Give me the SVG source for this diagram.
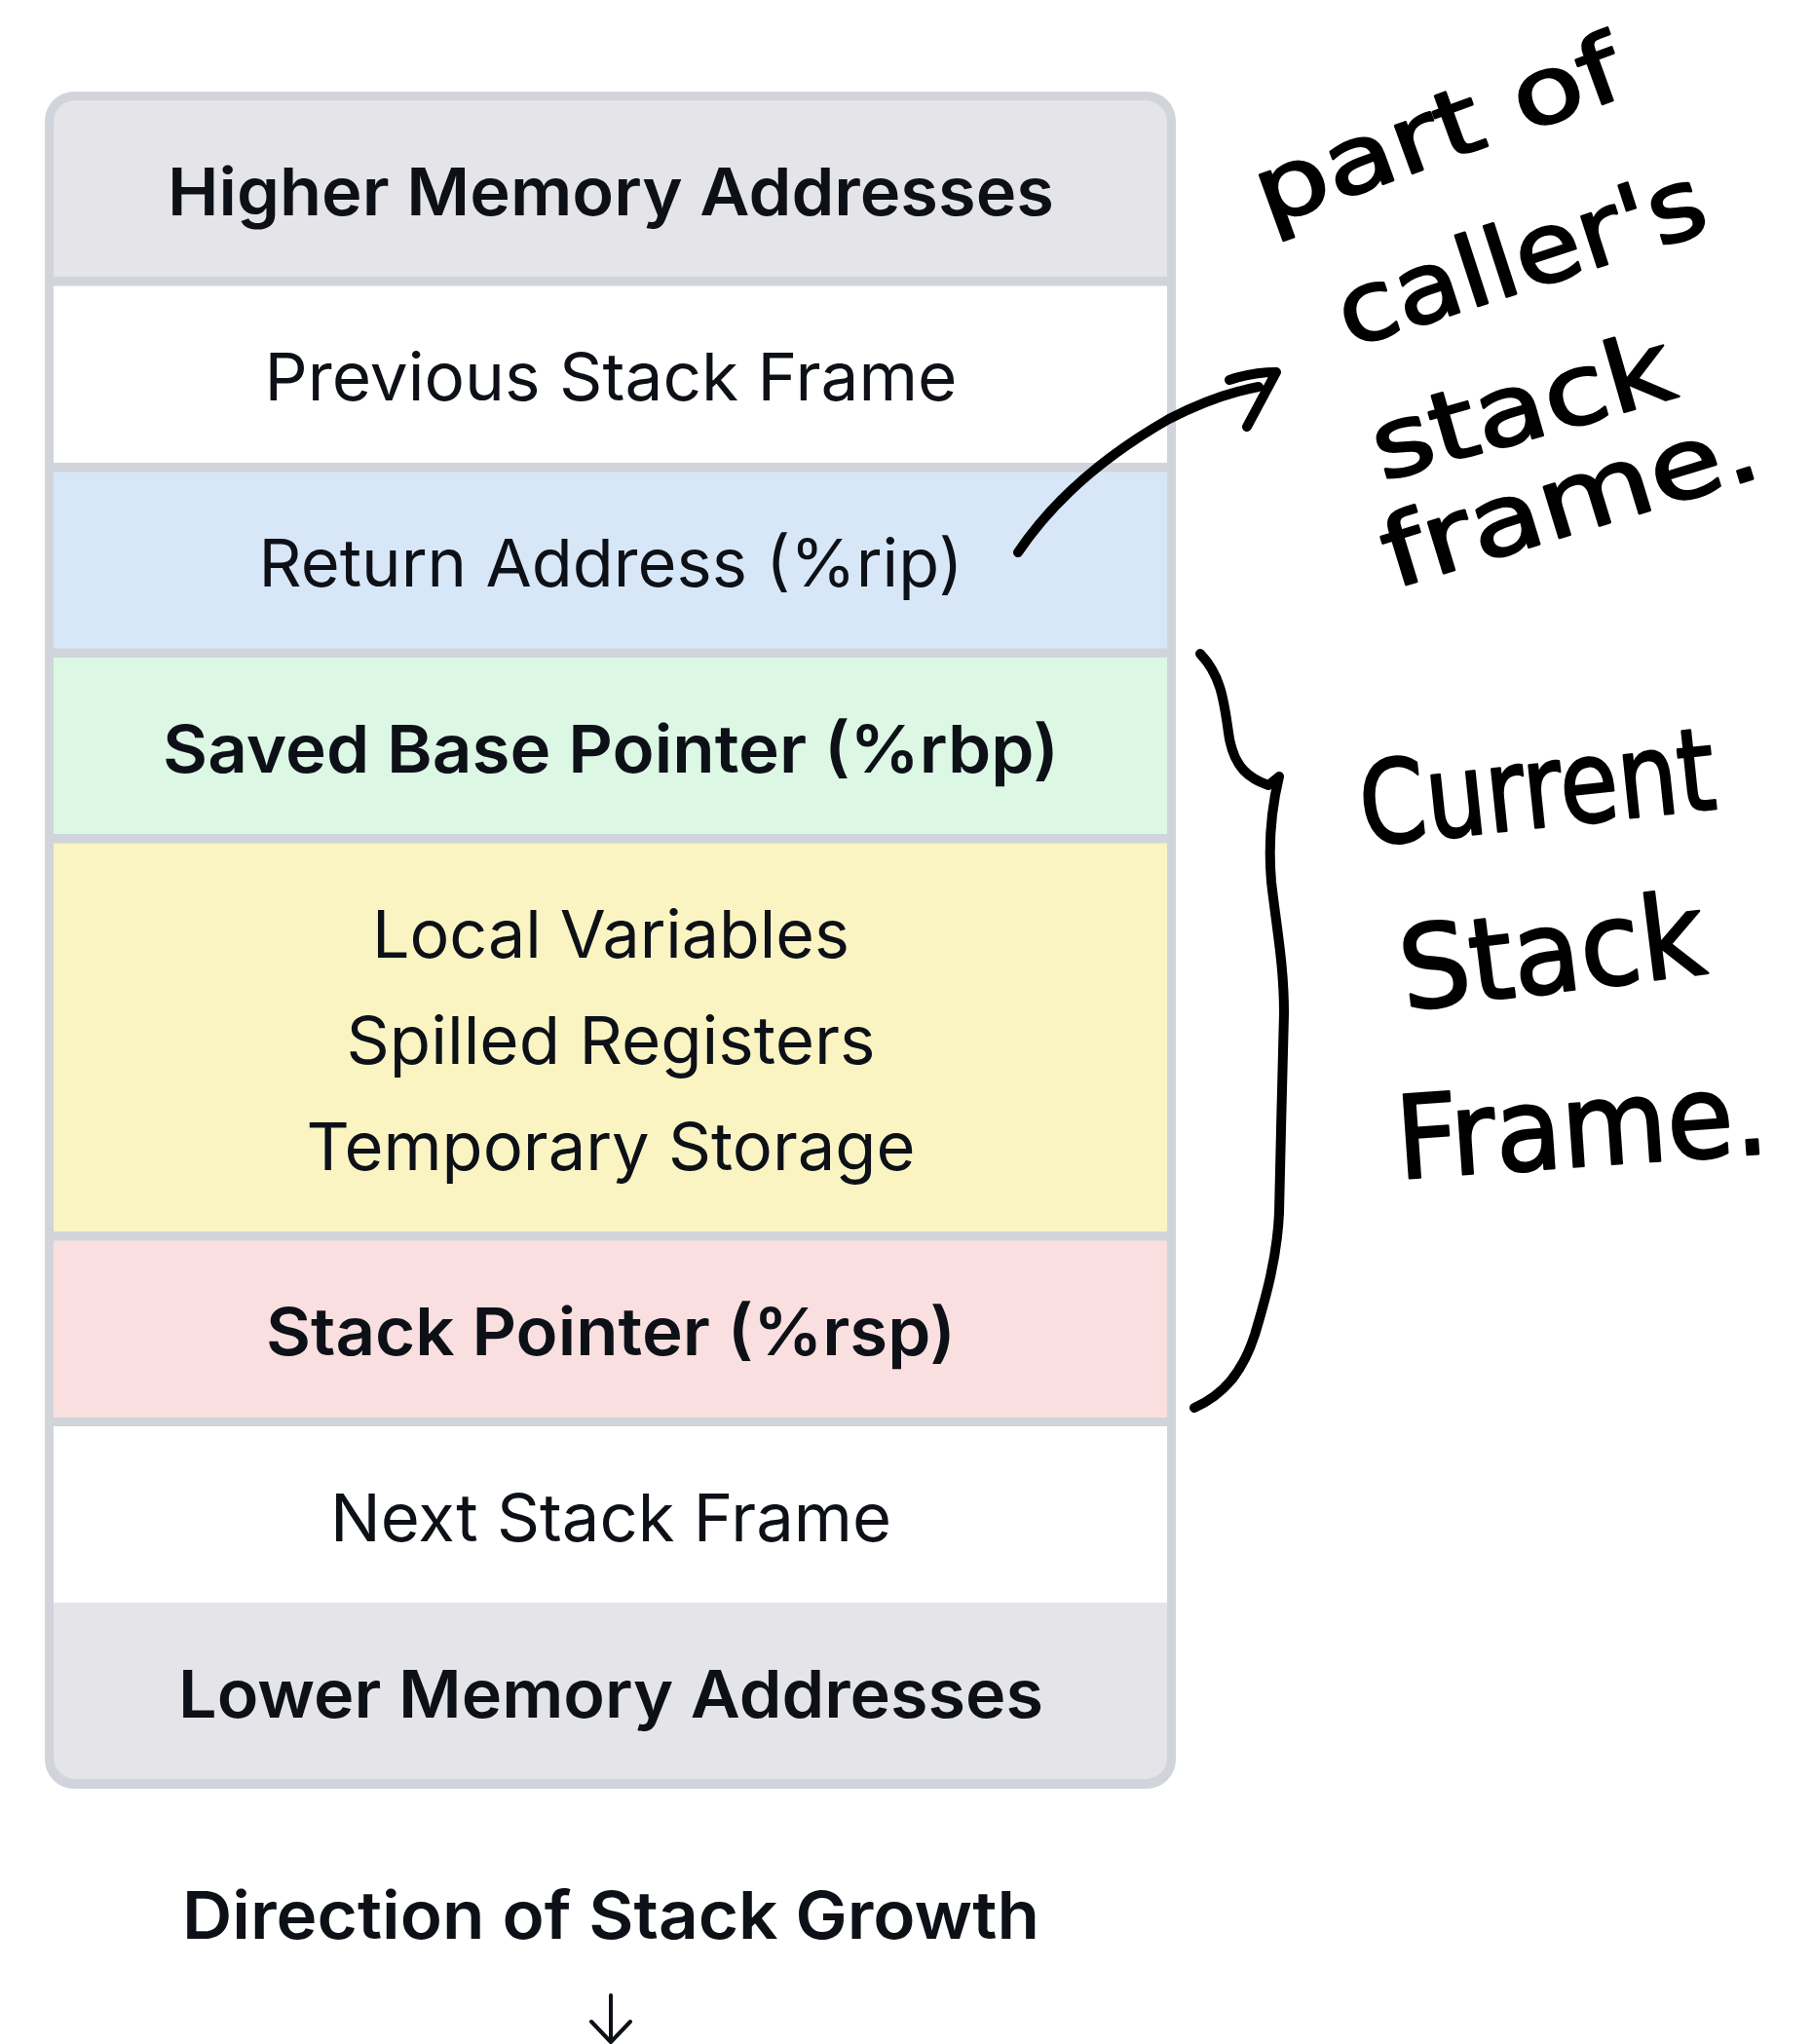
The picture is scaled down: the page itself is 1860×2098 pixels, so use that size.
<svg xmlns="http://www.w3.org/2000/svg" width="1860" height="2098" viewBox="0 0 1860 2098">
<style>
.lbl{font-family:Inter,"Liberation Sans",sans-serif;font-size:68px;fill:#0d1117;text-anchor:middle}
.b{font-weight:600}
.hand{font-family:"DejaVu Sans","Liberation Sans",sans-serif;fill:#000;stroke:#000;stroke-width:2.5;stroke-linejoin:round}
.ink{fill:none;stroke:#000;stroke-width:10;stroke-linecap:round;stroke-linejoin:round}
.thin{fill:none;stroke:#0d1117;stroke-width:4;stroke-linecap:round;stroke-linejoin:round}
</style>
<rect width="1860" height="2098" fill="#ffffff"/>
<g id="stack">
<rect id="frame" x="46" y="94" width="1161" height="1742" rx="30" fill="#d1d5db"/>
<g id="higher">
<path d="M55,125 A22,22 0 0 1 77,103 L1176,103 A22,22 0 0 1 1198,125 L1198,284 L55,284 Z" fill="#e4e4e9"/>
<text class="lbl b" x="627" y="220.5" textLength="910" lengthAdjust="spacingAndGlyphs">Higher Memory Addresses</text>
</g>
<g id="previous">
<rect x="55" y="293.5" width="1143" height="181.5" fill="#ffffff"/>
<text class="lbl" x="627" y="411" textLength="711" lengthAdjust="spacingAndGlyphs">Previous Stack Frame</text>
</g>
<g id="return">
<rect x="55" y="484.5" width="1143" height="181" fill="#d7e7f8"/>
<text class="lbl" x="627" y="602" textLength="723" lengthAdjust="spacingAndGlyphs">Return Address (%rip)</text>
</g>
<g id="savedbp">
<rect x="55" y="675" width="1143" height="181" fill="#dcf8e5"/>
<text class="lbl b" x="627" y="792.5" textLength="920" lengthAdjust="spacingAndGlyphs">Saved Base Pointer (%rbp)</text>
</g>
<g id="locals">
<rect x="55" y="865.5" width="1143" height="398.5" fill="#faf4c3"/>
<text class="lbl" x="627" y="983" textLength="490" lengthAdjust="spacingAndGlyphs">Local Variables</text>
<text class="lbl" x="627" y="1092" textLength="543" lengthAdjust="spacingAndGlyphs">Spilled Registers</text>
<text class="lbl" x="627" y="1201" textLength="625" lengthAdjust="spacingAndGlyphs">Temporary Storage</text>
</g>
<g id="stackptr">
<rect x="55" y="1273.5" width="1143" height="181.5" fill="#f9dfdf"/>
<text class="lbl b" x="627" y="1391" textLength="708" lengthAdjust="spacingAndGlyphs">Stack Pointer (%rsp)</text>
</g>
<g id="next">
<rect x="55" y="1464" width="1143" height="181" fill="#ffffff"/>
<text class="lbl" x="627" y="1581.5" textLength="576" lengthAdjust="spacingAndGlyphs">Next Stack Frame</text>
</g>
<g id="lower">
<path d="M55,1645 L1198,1645 L1198,1804 A22,22 0 0 1 1176,1826 L77,1826 A22,22 0 0 1 55,1804 Z" fill="#e4e4e9"/>
<text class="lbl b" x="627" y="1762.5" textLength="888" lengthAdjust="spacingAndGlyphs">Lower Memory Addresses</text>
</g>
</g>
<g id="direction">
<text class="lbl b" x="627" y="1990" textLength="880" lengthAdjust="spacingAndGlyphs">Direction of Stack Growth</text>
</g>
<g id="connectors">
<path class="thin" d="M627,2048 L627,2096 M607,2075 L627,2096 L647,2075"/>
<path class="ink" d="M1045,567 C1080,515 1130,470 1200,430 C1235,412 1265,402 1292,397"/>
<path class="ink" d="M1262,390 C1280,384 1300,382 1310,382 L1280,438"/>
<path class="ink" d="M1232,671 C1252,692 1256,715 1261,752 C1266,790 1285,800 1302,806 L1313,797 C1305,830 1302,870 1305,905 C1310,950 1318,990 1318,1040 C1317,1100 1314,1180 1313,1245 C1311,1290 1300,1330 1288,1370 C1275,1410 1255,1432 1226,1445"/>
</g>
<g id="note-caller">
<text class="hand" transform="translate(1301,232) rotate(-20)" font-size="95" textLength="395" lengthAdjust="spacingAndGlyphs">part of</text>
<text class="hand" transform="translate(1385,357) rotate(-18)" font-size="100" textLength="392" lengthAdjust="spacingAndGlyphs">caller's</text>
<text class="hand" transform="translate(1419,494) rotate(-16)" font-size="100" textLength="317" lengthAdjust="spacingAndGlyphs">stack</text>
<text class="hand" transform="translate(1431,604) rotate(-17)" font-size="100" textLength="398" lengthAdjust="spacingAndGlyphs">frame.</text>
</g>
<g id="note-current">
<text class="hand" transform="translate(1400,868) rotate(-6)" font-size="118" textLength="366" lengthAdjust="spacingAndGlyphs">Current</text>
<text class="hand" transform="translate(1442,1037) rotate(-7)" font-size="118" textLength="314" lengthAdjust="spacingAndGlyphs">Stack</text>
<text class="hand" transform="translate(1436,1210) rotate(-4)" font-size="118" textLength="382" lengthAdjust="spacingAndGlyphs">Frame.</text>
</g>
</svg>
